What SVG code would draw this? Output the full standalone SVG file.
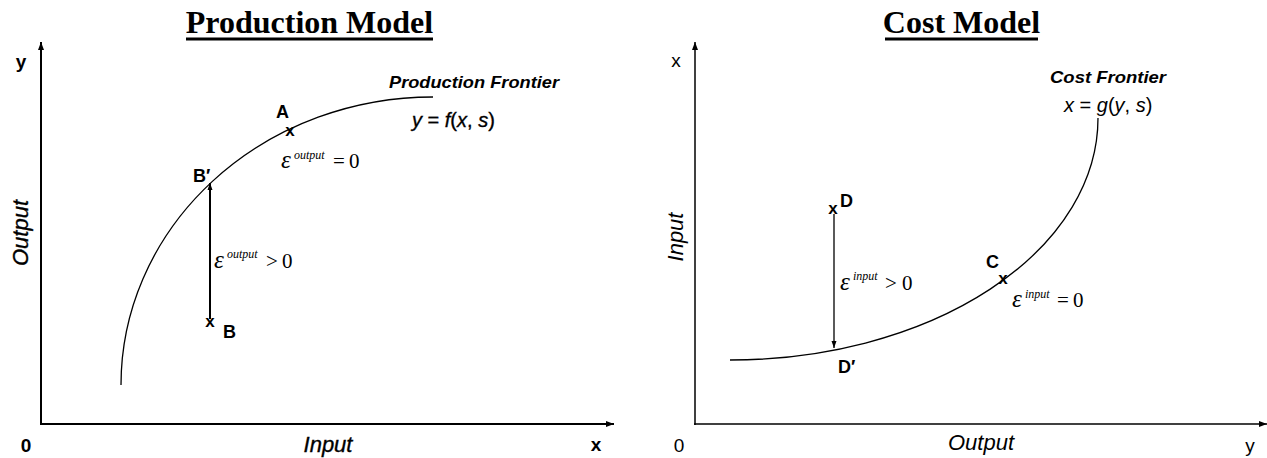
<svg xmlns="http://www.w3.org/2000/svg" width="1267" height="458" viewBox="0 0 1267 458">
<style>
.title{font-family:"Liberation Serif",serif;font-weight:bold;font-size:32px;fill:#000;text-anchor:middle}
.ax{stroke:#000;fill:none}
.lab{font-family:"Liberation Sans",Arial,sans-serif;font-size:19px;fill:#000}
.bold{font-weight:bold}
.axl{font-family:"Liberation Sans",Arial,sans-serif;font-size:22px;font-style:italic;fill:#000;text-anchor:middle}
.heavy{stroke:#000;stroke-width:0.35}
.pt{font-family:"Liberation Sans",Arial,sans-serif;font-size:18px;font-weight:bold;fill:#000}
.mk{font-family:"Liberation Sans",Arial,sans-serif;font-size:17px;font-weight:bold;fill:#000;text-anchor:middle}
.front{font-family:"Liberation Sans",Arial,sans-serif;font-size:17px;font-weight:bold;font-style:italic;fill:#000}
.fx{font-family:"Liberation Sans",Arial,sans-serif;font-size:20px;fill:#000}
.it{font-style:italic}
.eps{font-family:"Liberation Serif","Times New Roman",serif;font-size:21px;fill:#000}
.ep{font-size:25px;font-style:italic}
.sup{font-size:12px;font-style:italic}
.curve{fill:none;stroke:#000;stroke-width:1.3}
</style>
<defs>
<marker id="ah" markerUnits="userSpaceOnUse" markerWidth="8" markerHeight="6" refX="8" refY="3" orient="auto">
<path d="M0,0 L8,3 L0,6 z" fill="#000"/>
</marker>
<marker id="ahs" markerUnits="userSpaceOnUse" markerWidth="7" markerHeight="6" refX="7" refY="3" orient="auto">
<path d="M0,0.5 L7,3 L0,5.5 z" fill="#000"/>
</marker>
</defs>

<!-- Titles -->
<g id="title-production">
<text class="title" x="309.5" y="33">Production Model</text>
<rect x="186" y="37.5" width="247" height="3" fill="#000"/>
</g>
<g id="title-cost">
<text class="title" x="961.5" y="33">Cost Model</text>
<rect x="885" y="37.5" width="153" height="3" fill="#000"/>
</g>

<!-- Axes -->
<g id="axes-production">
<line class="ax" x1="41" y1="425" x2="41" y2="42" stroke-width="2" marker-end="url(#ah)"/>
<line class="ax" x1="40" y1="424" x2="614" y2="424" stroke-width="2" marker-end="url(#ah)"/>
<text class="lab bold" x="21" y="68" text-anchor="middle">y</text>
<text class="lab bold" x="26" y="452" text-anchor="middle">0</text>
<text class="lab bold" x="596" y="451" text-anchor="middle">x</text>
<text class="axl heavy" x="328" y="452">Input</text>
<text class="axl heavy" transform="translate(28,233) rotate(-90)">Output</text>
</g>
<g id="axes-cost">
<line class="ax" x1="695" y1="425" x2="695" y2="42" stroke-width="1.5" marker-end="url(#ah)"/>
<line class="ax" x1="694" y1="424" x2="1267" y2="424" stroke-width="1.5" marker-end="url(#ah)"/>
<text class="lab" x="676" y="67" text-anchor="middle">x</text>
<text class="lab" x="679" y="452" text-anchor="middle">0</text>
<text class="lab" x="1250" y="452" text-anchor="middle">y</text>
<text class="axl" x="981" y="450">Output</text>
<text class="axl" transform="translate(683,237) rotate(-90)">Input</text>
</g>

<!-- Frontiers -->
<g id="production-frontier">
<path class="curve" d="M121,385 A312,288 0 0 1 433,97"/>
<text class="front" x="389" y="88" textLength="170" lengthAdjust="spacingAndGlyphs">Production Frontier</text>
<text class="fx heavy" x="412" y="127"><tspan class="it">y</tspan> = <tspan class="it">f</tspan>(<tspan class="it">x</tspan>, <tspan class="it">s</tspan>)</text>
</g>
<g id="cost-frontier">
<path class="curve" d="M730,360 A368,242 0 0 0 1098,118"/>
<text class="front" x="1050" y="83" textLength="116" lengthAdjust="spacingAndGlyphs">Cost Frontier</text>
<text class="fx" x="1064" y="112"><tspan class="it">x</tspan> = <tspan class="it">g</tspan>(<tspan class="it">y</tspan>, <tspan class="it">s</tspan>)</text>
</g>

<!-- Points -->
<g id="point-A">
<text class="pt" x="276" y="118">A</text>
<text class="mk" x="290" y="136">x</text>
<text class="eps" x="281" y="168"><tspan class="ep">ε</tspan><tspan class="sup" x="294" y="159">output</tspan><tspan x="333" y="168">=</tspan><tspan x="349" y="168">0</tspan></text>
</g>
<g id="point-Bprime">
<text class="pt" x="193" y="182">B′</text>
</g>
<g id="point-B">
<text class="mk" x="210" y="327">x</text>
<text class="pt" x="223" y="338">B</text>
<text class="eps" x="214" y="268"><tspan class="ep">ε</tspan><tspan class="sup" x="227" y="258">output</tspan><tspan x="266" y="268">&gt;</tspan><tspan x="282" y="268">0</tspan></text>
</g>
<g id="point-C">
<text class="pt" x="986" y="268">C</text>
<text class="mk" x="1003" y="284">x</text>
<text class="eps" x="1012" y="307"><tspan class="ep">ε</tspan><tspan class="sup" x="1025" y="298">input</tspan><tspan x="1057" y="307">=</tspan><tspan x="1073" y="307">0</tspan></text>
</g>
<g id="point-D">
<text class="mk" x="833" y="214">x</text>
<text class="pt" x="840" y="207">D</text>
<text class="eps" x="840" y="290"><tspan class="ep">ε</tspan><tspan class="sup" x="853" y="280">input</tspan><tspan x="885" y="290">&gt;</tspan><tspan x="902" y="290">0</tspan></text>
</g>
<g id="point-Dprime">
<text class="pt" x="838" y="373">D′</text>
</g>

<!-- Connectors -->
<g id="connectors">
<line class="ax" x1="210" y1="319" x2="210" y2="183" stroke-width="2" marker-end="url(#ahs)"/>
<line class="ax" x1="834" y1="214" x2="834" y2="348" stroke-width="1.3" marker-end="url(#ahs)"/>
</g>
</svg>
